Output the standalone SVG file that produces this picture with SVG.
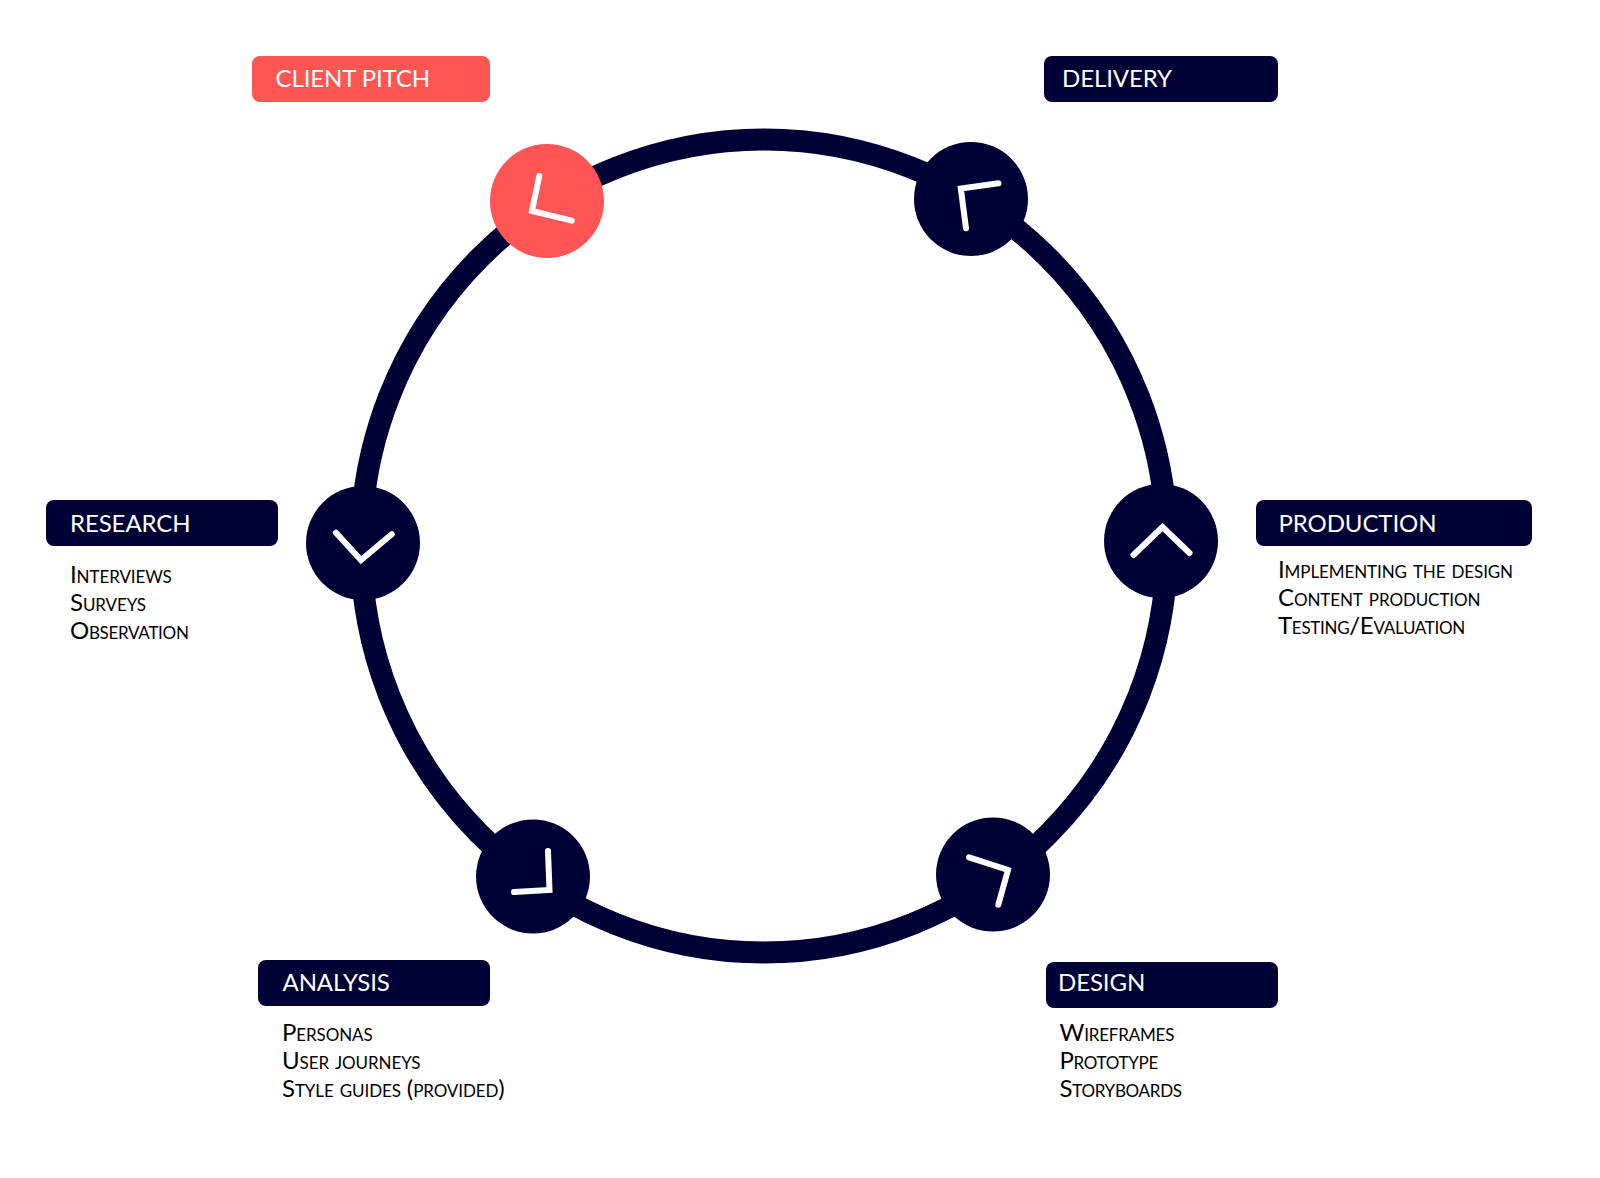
<svg xmlns="http://www.w3.org/2000/svg" width="1600" height="1178" viewBox="0 0 1600 1178">
<style>
.lab{fill:#000236}
.c{fill:#000236}
.tick{fill:none;stroke:#fff;stroke-width:6;stroke-linecap:round;stroke-linejoin:miter}
.h{font-family:Lato,"Liberation Sans",sans-serif;font-size:24px;fill:#fff;letter-spacing:-0.1px}
.b{font-family:Lato,"Liberation Sans",sans-serif;font-size:24px;font-weight:400;font-variant:small-caps;fill:#000;letter-spacing:-0.1px}
.n{letter-spacing:-0.3px}
</style>
<rect width="1600" height="1178" fill="#fff"/>
<g id="connectors"><ellipse cx="764" cy="546" rx="403" ry="406.5" fill="none" stroke="#000236" stroke-width="22"/></g>
<g id="client-pitch">
<rect x="252" y="56" width="238" height="46" rx="8" fill="#ff5555"/><text class="h" x="275.500" y="87">CLIENT PITCH</text>
<circle cx="547" cy="201" r="57" fill="#ff5555"/><path class="tick" d="M539.300 176L532 211L571.700 220.700"/></g>
<g id="delivery">
<rect class="lab" x="1044" y="56" width="234" height="46" rx="8"/><text class="h" x="1062" y="87">DELIVERY</text>
<circle class="c" cx="971" cy="199" r="57"/><path class="tick" d="M966 228.300L960.800 188.500L998.500 183.300"/></g>
<g id="production">
<rect class="lab" x="1256" y="500" width="276" height="46" rx="8"/><text class="h" x="1278.500" y="532">PRODUCTION</text>
<circle class="c" cx="1161" cy="541" r="57"/><path class="tick" d="M1133.500 555L1162.500 527L1189.500 553"/>
<text class="b" x="1278" y="578">Implementing the design</text><text class="b" x="1278" y="606">Content production</text><text class="b n" x="1278" y="634">Testing/Evaluation</text></g>
<g id="design">
<rect class="lab" x="1046" y="962" width="232" height="46" rx="8"/><text class="h" x="1058" y="991">DESIGN</text>
<circle class="c" cx="993" cy="874.500" r="57"/><path class="tick" d="M969 857.300L1008 870L998.300 904.700"/>
<text class="b" x="1059.500" y="1041" style="letter-spacing:-0.2px">Wireframes</text><text class="b n" x="1059.500" y="1069">Prototype</text><text class="b n" x="1059.500" y="1097">Storyboards</text></g>
<g id="analysis">
<rect class="lab" x="258" y="960" width="232" height="46" rx="8"/><text class="h" x="282.500" y="991">ANALYSIS</text>
<circle class="c" cx="533" cy="876.500" r="57"/><path class="tick" d="M548 851L549.500 890L514 892"/>
<text class="b" x="282" y="1041">Personas</text><text class="b" x="282" y="1069">User journeys</text><text class="b" x="282" y="1097">Style guides (provided)</text></g>
<g id="research">
<rect class="lab" x="46" y="500" width="232" height="46" rx="8"/><text class="h" x="70" y="532">RESEARCH</text>
<circle class="c" cx="363" cy="543" r="57"/><path class="tick" d="M336 532.700L361 560L391.700 534.300"/>
<text class="b" x="70" y="583">Interviews</text><text class="b" x="70" y="611">Surveys</text><text class="b n" x="70" y="639">Observation</text></g>
</svg>
